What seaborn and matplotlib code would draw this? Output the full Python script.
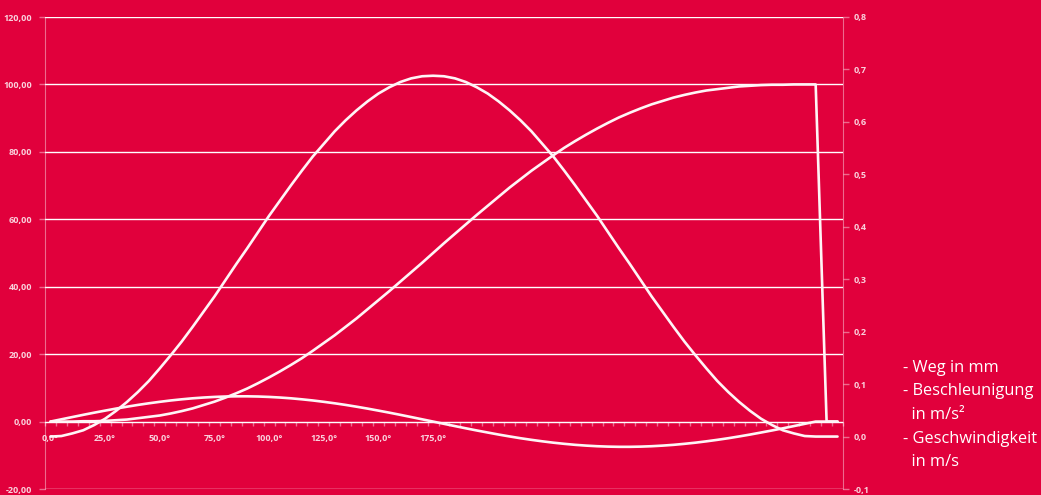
import pandas as pd
import matplotlib.pyplot as plt
import matplotlib.ticker as mticker
import seaborn as sns

sns.set_style("white")
plt.rcParams["font.family"] = ["Open Sans", "DejaVu Sans"]

# -----------------------------
# Data
# -----------------------------
angle = [0, 5, 10, 15, 20, 25, 30, 35, 40, 45, 50, 55, 60, 65, 70, 75, 80, 85,
         90, 95, 100, 105, 110, 115, 120, 125, 130, 135, 140, 145, 150, 155, 160, 165,
         170, 175, 180, 185, 190, 195, 200, 205, 210, 215, 220, 225, 230, 235, 240, 245,
         250, 255, 260, 265, 270, 275, 280, 285, 290, 295, 300, 305, 310, 315, 320, 325,
         330, 335, 340, 345, 350, 355, 360]

weg = [0.0, 0.0, 0.0, 0.1, 0.1, 0.2, 0.4, 0.6, 1.0, 1.4, 1.8, 2.4, 3.1, 3.9, 4.9, 5.9, 7.1, 8.4,
       9.8, 11.4, 13.1, 14.9, 16.8, 18.8, 21.0, 23.3, 25.6, 28.1, 30.6, 33.3, 36.0, 38.7, 41.5, 44.3,
       47.1, 50.0, 52.9, 55.7, 58.5, 61.3, 64.0, 66.7, 69.4, 71.9, 74.4, 76.7, 79.0, 81.2, 83.2, 85.1,
       86.9, 88.6, 90.2, 91.6, 92.9, 94.1, 95.1, 96.1, 96.9, 97.6, 98.2, 98.6, 99.0, 99.4, 99.6, 99.8,
       99.9, 99.9, 100.0, 100.0, 100.0, 0.0, 0.0]

beschleunigung = [0.0, 0.67, 1.34, 2.00, 2.64, 3.25, 3.85, 4.41, 4.94, 5.42, 5.86, 6.26, 6.60, 6.90,
                  7.13, 7.31, 7.43, 7.49, 7.49, 7.43, 7.31, 7.13, 6.90, 6.60, 6.26, 5.86, 5.42, 4.94,
                  4.41, 3.85, 3.25, 2.64, 2.00, 1.34, 0.67, 0.0, -0.67, -1.34, -2.00, -2.64, -3.25,
                  -3.85, -4.41, -4.94, -5.42, -5.86, -6.26, -6.60, -6.90, -7.13, -7.31, -7.43, -7.49,
                  -7.49, -7.43, -7.31, -7.13, -6.90, -6.60, -6.26, -5.86, -5.42, -4.94, -4.41, -3.85,
                  -3.25, -2.64, -2.00, -1.34, -0.67, 0.0, 0.0, 0.0]

geschwindigkeit = [0.000, 0.001, 0.006, 0.012, 0.022, 0.034, 0.049, 0.066, 0.085, 0.106, 0.130, 0.155,
                   0.181, 0.209, 0.238, 0.267, 0.298, 0.329, 0.359, 0.390, 0.421, 0.450, 0.479, 0.507,
                   0.534, 0.558, 0.582, 0.603, 0.622, 0.639, 0.654, 0.666, 0.676, 0.683, 0.687, 0.688,
                   0.687, 0.683, 0.676, 0.666, 0.654, 0.639, 0.622, 0.603, 0.582, 0.558, 0.534, 0.507,
                   0.479, 0.450, 0.421, 0.390, 0.359, 0.329, 0.298, 0.267, 0.238, 0.209, 0.181, 0.155,
                   0.130, 0.106, 0.085, 0.066, 0.049, 0.034, 0.022, 0.012, 0.006, 0.001, 0.000, 0.000,
                   0.000]

x_labels = [0, 25, 50, 75, 100, 125, 150, 175]
left_ticks = [-20, 0, 20, 40, 60, 80, 100, 120]
right_ticks = [-0.1, 0.0, 0.1, 0.2, 0.3, 0.4, 0.5, 0.6, 0.7, 0.8]

legend_lines = ["- Weg in mm", "- Beschleunigung", "  in m/s\u00b2", "- Geschwindigkeit", "  in m/s"]

df = pd.DataFrame({"Winkel": angle, "Weg": weg,
                   "Beschleunigung": beschleunigung, "Geschwindigkeit": geschwindigkeit})

# -----------------------------
# Style
# -----------------------------
BG = "#e1003c"
LINE = "#fff4f6"
AXC = (1, 1, 1, 0.42)
LBL = (1, 1, 1, 0.82)

fig = plt.figure(figsize=(10.41, 4.95), dpi=100, facecolor=BG)
ax = fig.add_axes([45 / 1041, 1 - 489 / 495, (843 - 45) / 1041, (489 - 17) / 495])
ax.set_facecolor(BG)
ax2 = ax.twinx()

sns.lineplot(data=df, x="Winkel", y="Weg", color=LINE, linewidth=1.9, ax=ax)
sns.lineplot(data=df, x="Winkel", y="Beschleunigung", color=LINE, linewidth=1.9, ax=ax)
sns.lineplot(data=df, x="Winkel", y="Geschwindigkeit", color=LINE, linewidth=1.9, ax=ax2)

# -----------------------------
# Axes
# -----------------------------
ax.set_xlim(-2.5, 362.5)
ax.set_ylim(-20, 120)
ax2.set_ylim(-0.1, 0.8)

ax.set_yticks(left_ticks)
ax.yaxis.set_major_formatter(mticker.FuncFormatter(lambda v, p: f"{v:.2f}".replace(".", ",")))
ax2.set_yticks(right_ticks)
ax2.yaxis.set_major_formatter(mticker.FuncFormatter(lambda v, p: f"{v:.1f}".replace(".", ",")))

ax.set_xticks(x_labels)
ax.set_xticklabels([f"{v:.1f}°".replace(".", ",") for v in x_labels])
ax.set_xticks([a - 2.5 for a in angle] + [362.5], minor=True)

ax.grid(axis="y", color=AXC, linewidth=1)
ax.grid(axis="x", visible=False)

for a in (ax, ax2):
    a.set_xlabel("")
    a.set_ylabel("")
    for s in a.spines.values():
        s.set_visible(False)

ax.spines["left"].set_visible(True)
ax.spines["left"].set_color(AXC)
ax2.spines["right"].set_visible(True)
ax2.spines["right"].set_color(AXC)
ax.spines["bottom"].set_visible(True)
ax.spines["bottom"].set_position(("data", 0))
ax.spines["bottom"].set_color(AXC)

ax.tick_params(axis="y", left=True, length=4, width=1, color=AXC, pad=5,
               labelsize=6.5, labelcolor=LBL)
ax2.tick_params(axis="y", right=True, length=4, width=1, color=AXC, pad=4,
                labelsize=6.5, labelcolor=LBL)
ax.tick_params(axis="x", which="major", length=0, pad=9, labelsize=6.5, labelcolor=LBL)
ax.tick_params(axis="x", which="minor", bottom=True, length=3, width=1, color=AXC)

for t in ax.get_yticklabels() + ax2.get_yticklabels() + ax.get_xticklabels():
    t.set_fontweight("bold")

# -----------------------------
# Legend text
# -----------------------------
ys = [368, 391, 415, 439, 462]
for txt, y in zip(legend_lines, ys):
    fig.text(903 / 1041, 1 - y / 495, txt, color="white", fontsize=11.8,
             va="center", ha="left")

fig.savefig("out.png", dpi=100, facecolor=BG)
